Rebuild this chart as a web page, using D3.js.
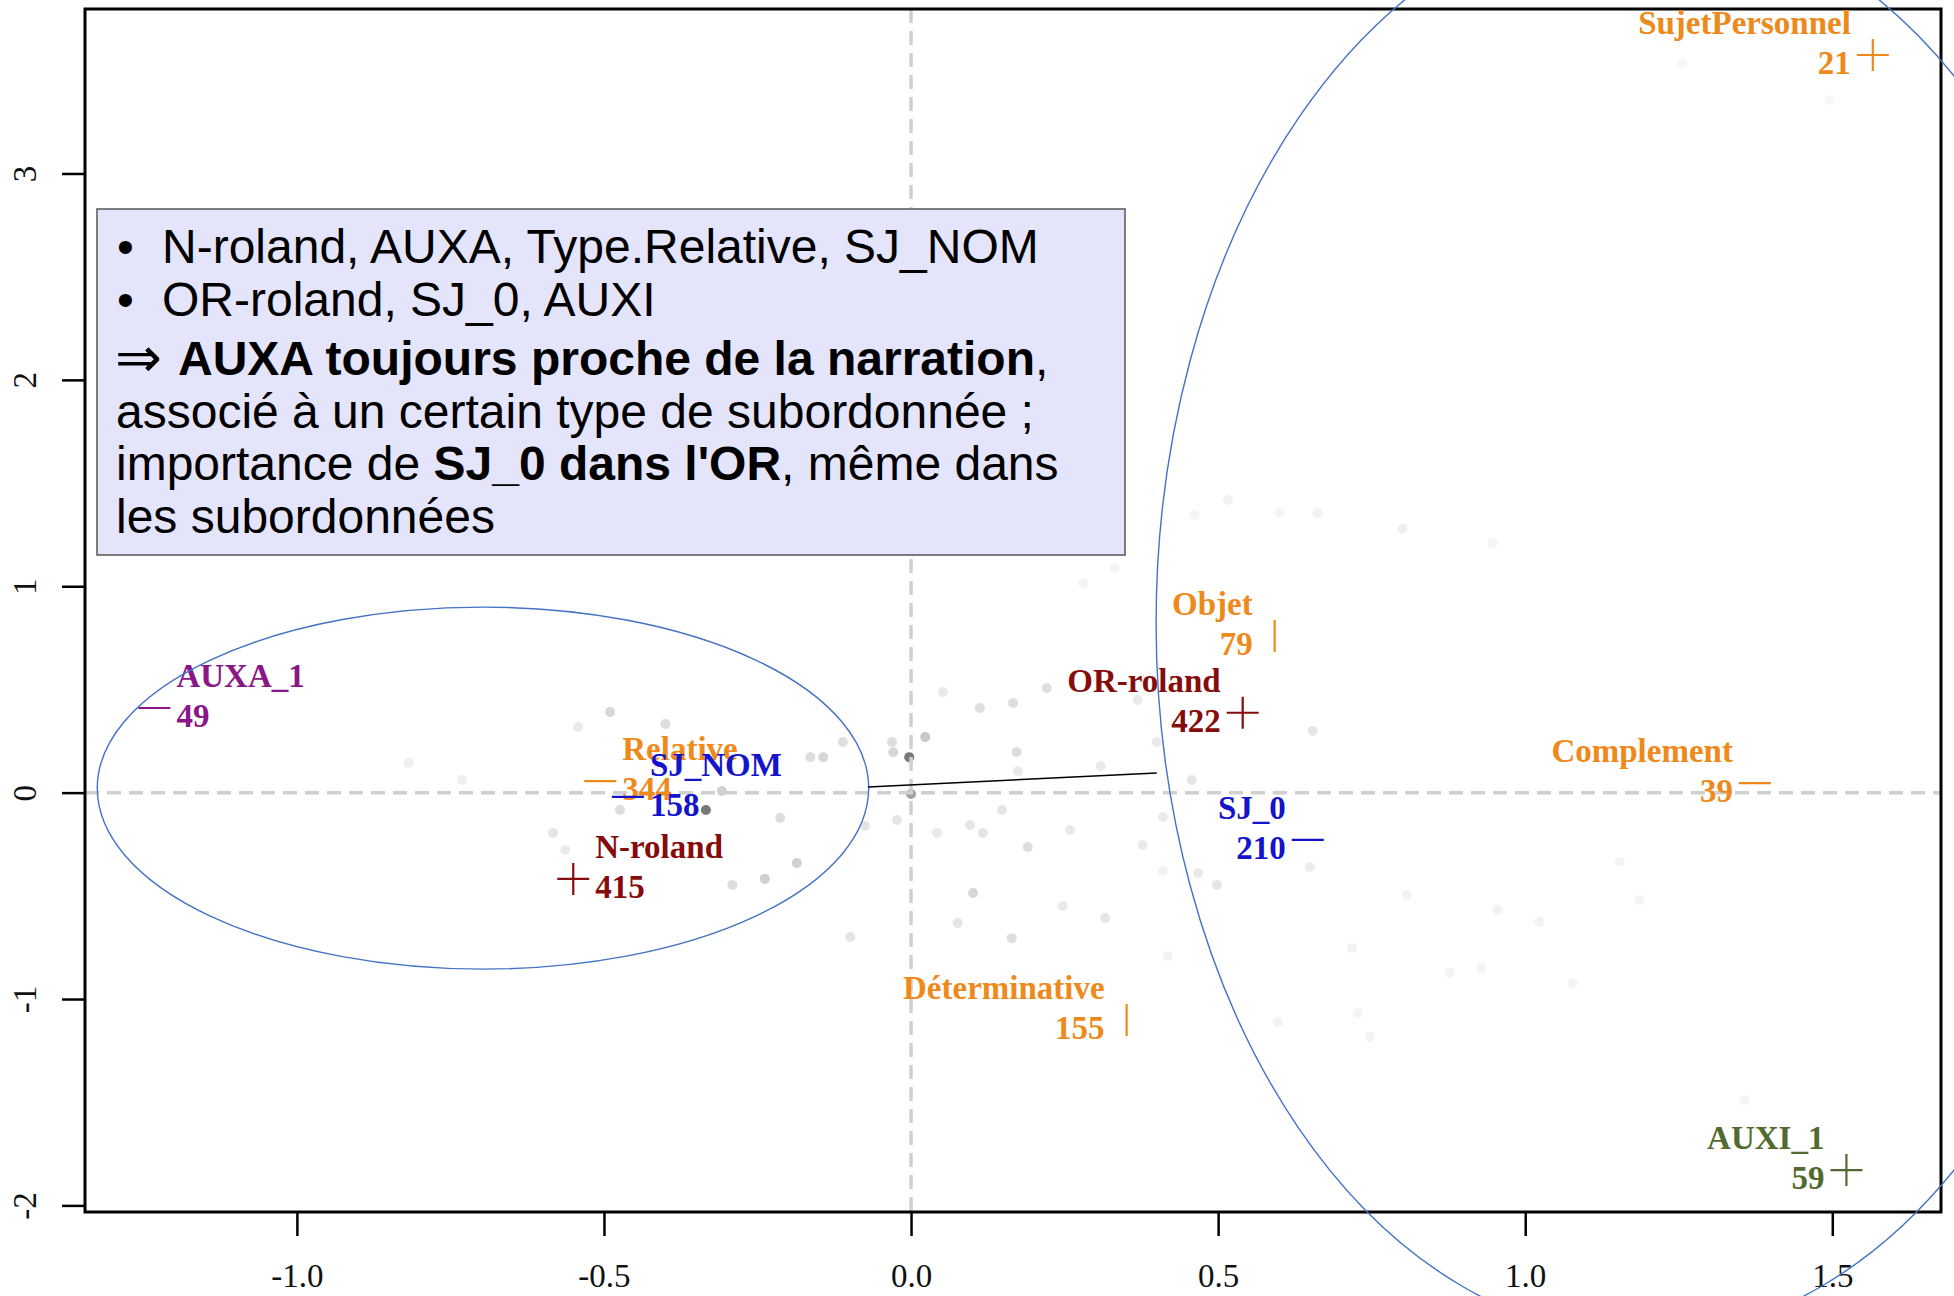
<!DOCTYPE html>
<html>
<head>
<meta charset="utf-8">
<script src="https://cdn.jsdelivr.net/npm/d3@7"></script>
<style>
  body { margin: 0; background: #fff; }
  svg { display: block; }
</style>
</head>
<body>
<div id="chart"></div>
<script>
//==============================
// DATA
//==============================
// active modalities (first plane of the MCA)
const modNames  = ["SujetPersonnel", "Objet", "OR-roland", "Complement", "SJ_0", "Déterminative",
                   "AUXI_1", "AUXA_1", "Relative", "SJ_NOM", "N-roland"];
const modCounts = [21, 79, 422, 39, 210, 155, 59, 49, 344, 158, 415];
const modX      = [1.566, 0.592, 0.540, 1.374, 0.646, 0.351, 1.523, -1.232, -0.506, -0.461, -0.550];
const modY      = [3.574, 0.759, 0.387, 0.046, -0.229, -1.102, -1.829, 0.410, 0.056, -0.021, -0.418];
const modVar    = ["Type.Relative", "Type.Relative", "texte", "Type.Relative", "SJ", "Type.Relative",
                   "AUXI", "AUXA", "Type.Relative", "SJ", "texte"];
const modPch    = ["+", "|", "+", "-", "-", "|", "+", "-", "-", "-", "+"];

// individuals (faint grey cloud), weight = how dark they print
const indX = [-0.490, -0.400, -0.111, -0.143, -0.164, -0.031, -0.029, -0.003, 0.023, -0.308,
              -0.474, -0.334, 0.000, -0.075, -0.213, -0.023, 0.117, 0.042, -0.186, -0.238,
              -0.291, -0.563, -0.583, 0.101, 0.076, -0.099, 0.112, 0.052, -0.542, 0.221,
              0.166, 0.172, 0.174, 0.309, 0.400, 0.457, 0.654, 0.148, 0.096, 0.259,
              0.190, 0.377, 0.410, 0.649, 0.498, 0.247, 0.164, 0.316, 0.369, 0.516,
              0.600, 0.662, 0.800, 0.462, 0.332, 0.280, 0.947, 0.410, 0.467, 0.807,
              0.955, 1.023, 1.154, 1.186, 0.718, 0.877, 0.929, 1.077, 0.418, 0.597,
              0.727, 0.747, -0.818, -0.731, 1.256, 1.495, 1.357];
const indY = [0.391, 0.332, 0.245, 0.172, 0.172, 0.245, 0.196, 0.172, 0.269, 0.008,
              -0.084, -0.084, -0.007, -0.162, -0.123, -0.133, -0.195, -0.195, -0.341, -0.418,
              -0.447, -0.278, -0.195, -0.486, -0.632, -0.700, 0.410, 0.487, 0.318, 0.507,
              0.434, 0.197, 0.105, 0.129, 0.245, 0.061, 0.299, -0.084, -0.157, -0.181,
              -0.264, -0.254, -0.118, -0.360, -0.447, -0.549, -0.705, -0.608, 0.449, 1.418,
              1.355, 1.355, 1.277, 1.345, 1.088, 1.015, 1.209, -0.380, -0.390, -0.496,
              -0.568, -0.627, -0.336, -0.520, -0.753, -0.874, -0.850, -0.922, -0.792, -1.112,
              -1.068, -1.184, 0.143, 0.061, 3.533, 3.355, -1.490];
const indW = [0.25, 0.2, 0.2, 0.25, 0.2, 0.2, 0.25, 0.9, 0.35, 0.3,
              0.2, 0.9, 0.6, 0.15, 0.2, 0.15, 0.15, 0.12, 0.3, 0.3,
              0.2, 0.12, 0.15, 0.25, 0.15, 0.15, 0.2, 0.12, 0.12, 0.2,
              0.2, 0.2, 0.12, 0.12, 0.12, 0.15, 0.15, 0.15, 0.15, 0.12,
              0.2, 0.12, 0.12, 0.1, 0.15, 0.12, 0.2, 0.15, 0.12, 0.06,
              0.05, 0.06, 0.08, 0.04, 0.05, 0.05, 0.04, 0.06, 0.12, 0.06,
              0.06, 0.06, 0.05, 0.05, 0.06, 0.05, 0.05, 0.05, 0.06, 0.06,
              0.05, 0.05, 0.08, 0.08, 0.03, 0.03, 0.04];

// axes
const xTicks = [-1.0, -0.5, 0.0, 0.5, 1.0, 1.5];
const yTicks = [-2, -1, 0, 1, 2, 3];

// annotations added on the slide (lead = bullet / arrow, then text runs)
const boxLines = [
  { lead: "•", parts: [{ t: "N-roland, AUXA, Type.Relative, SJ_NOM" }] },
  { lead: "•", parts: [{ t: "OR-roland, SJ_0, AUXI" }] },
  { lead: "⇒", parts: [{ t: "AUXA toujours proche de la narration", b: true }, { t: "," }] },
  { lead: null, parts: [{ t: "associé à un certain type de subordonnée ;" }] },
  { lead: null, parts: [{ t: "importance de " }, { t: "SJ_0 dans l'OR", b: true }, { t: ", même dans" }] },
  { lead: null, parts: [{ t: "les subordonnées" }] }
];
// ellipses in data units: [cx, cy, rx, ry]
const groupEllipses = [[-0.697, 0.022, 0.628, 0.877], [1.190, 0.822, 0.791, 3.459]];
const linkLine = [[-0.070, 0.027], [0.400, 0.095]];

//==============================
// DRAW
//==============================
const W = 1954, H = 1296;
const plot = { left: 85, right: 1941, top: 9, bottom: 1212 };

const svg = d3.select("#chart").append("svg")
  .attr("width", W).attr("height", H);

const x = d3.scaleLinear().domain([-1.345, 1.677]).range([plot.left, plot.right]);
const y = d3.scaleLinear().domain([-2.032, 3.797]).range([plot.bottom, plot.top]);

const varColor = {
  "Type.Relative": "#ee8a1c",
  "texte": "#860c0c",
  "SJ": "#1414cc",
  "AUXA": "#8a1687",
  "AUXI": "#526a2e"
};
const grey = d3.scaleLinear().domain([0, 1]).range(["#fbfbfb", "#6a6a6a"]);

// individuals
svg.append("g").selectAll("circle")
  .data(indX.map((v, i) => i))
  .join("circle")
  .attr("cx", i => x(indX[i]))
  .attr("cy", i => y(indY[i]))
  .attr("r", 5)
  .attr("fill", i => grey(indW[i]));

// dashed origin lines
const dash = svg.append("g")
  .attr("stroke", "#d0d0d0").attr("stroke-width", 3.5).attr("stroke-dasharray", "14,8");
dash.append("line").attr("x1", x(0)).attr("x2", x(0)).attr("y1", plot.top).attr("y2", plot.bottom);
dash.append("line").attr("x1", plot.left).attr("x2", plot.right).attr("y1", y(0)).attr("y2", y(0));

// axes
const xAxis = svg.append("g")
  .attr("transform", `translate(0,${plot.bottom})`)
  .call(d3.axisBottom(x).tickValues(xTicks).tickSize(24).tickFormat(d => d.toFixed(1)));
const yAxis = svg.append("g")
  .attr("transform", `translate(${plot.left},0)`)
  .call(d3.axisLeft(y).tickValues(yTicks).tickSize(23).tickFormat(d => String(d)));

[xAxis, yAxis].forEach(a => {
  a.select(".domain").remove();
  a.selectAll(".tick line").attr("stroke", "#000").attr("stroke-width", 2.5);
  a.selectAll(".tick text")
    .attr("font-family", "'Liberation Serif', 'Times New Roman', serif")
    .attr("font-size", 33).attr("fill", "#111");
});
xAxis.selectAll(".tick text").attr("y", 75).attr("dy", 0);
yAxis.selectAll(".tick text")
  .attr("x", 0).attr("dy", 0).attr("text-anchor", "middle")
  .attr("transform", `translate(${36 - plot.left},0) rotate(-90)`);

// frame
svg.append("rect")
  .attr("x", plot.left).attr("y", plot.top)
  .attr("width", plot.right - plot.left).attr("height", plot.bottom - plot.top)
  .attr("fill", "none").attr("stroke", "#000").attr("stroke-width", 3);

// modalities: marker + name + count
const hs = 16;
const markPath = (px, py, p) => {
  if (p === "+") return `M${px - hs},${py}H${px + hs}M${px},${py - hs}V${py + hs}`;
  if (p === "|") return `M${px},${py - hs}V${py + hs}`;
  return `M${px - hs},${py}H${px + hs}`;
};
const mods = svg.append("g")
  .attr("font-family", "'Liberation Serif', 'Times New Roman', serif")
  .attr("font-weight", "bold").attr("font-size", 33);

modNames.forEach((name, i) => {
  const px = x(modX[i]), py = y(modY[i]);
  const col = varColor[modVar[i]];
  const right = modX[i] > 0;
  const tx = right ? px - 22 : px + 22;
  const g = mods.append("g").attr("fill", col);
  g.append("path").attr("d", markPath(px, py, modPch[i]))
    .attr("stroke", col).attr("stroke-width", 2.2).attr("fill", "none");
  g.append("text").attr("x", tx).attr("y", py - 21)
    .attr("text-anchor", right ? "end" : "start").text(name);
  g.append("text").attr("x", tx).attr("y", py + 19)
    .attr("text-anchor", right ? "end" : "start").text(modCounts[i]);
});

// comment box
svg.append("rect")
  .attr("x", 97).attr("y", 209).attr("width", 1028).attr("height", 346)
  .attr("fill", "#e4e4fb").attr("stroke", "#555").attr("stroke-width", 1.5);

const baselines = [263, 316, 375, 428, 480, 533];
const boxText = svg.append("g")
  .attr("font-family", "'Liberation Sans', Arial, sans-serif")
  .attr("font-size", 48).attr("fill", "#000");
boxLines.forEach((line, i) => {
  if (line.lead === "•") {
    boxText.append("text").attr("x", 117).attr("y", baselines[i]).text(line.lead);
  } else if (line.lead) {
    boxText.append("text").attr("x", 115).attr("y", baselines[i] + 2)
      .attr("font-family", "'DejaVu Sans', sans-serif").attr("font-size", 56).text(line.lead);
  }
  const t = boxText.append("text")
    .attr("x", line.lead === "•" ? 162 : line.lead ? 178 : 116).attr("y", baselines[i])
    .style("white-space", "pre");
  line.parts.forEach(p => {
    t.append("tspan").attr("font-weight", p.b ? "bold" : "normal").text(p.t);
  });
});

// group ellipses and link
const ann = svg.append("g").attr("fill", "none").attr("stroke", "#4472c4").attr("stroke-width", 1.4);
groupEllipses.forEach(e => {
  ann.append("ellipse")
    .attr("cx", x(e[0])).attr("cy", y(e[1]))
    .attr("rx", x(e[0] + e[2]) - x(e[0]))
    .attr("ry", y(e[1] - e[3]) - y(e[1]));
});
svg.append("line")
  .attr("x1", x(linkLine[0][0])).attr("y1", y(linkLine[0][1]))
  .attr("x2", x(linkLine[1][0])).attr("y2", y(linkLine[1][1]))
  .attr("stroke", "#000").attr("stroke-width", 1.5);
</script>
</body>
</html>
